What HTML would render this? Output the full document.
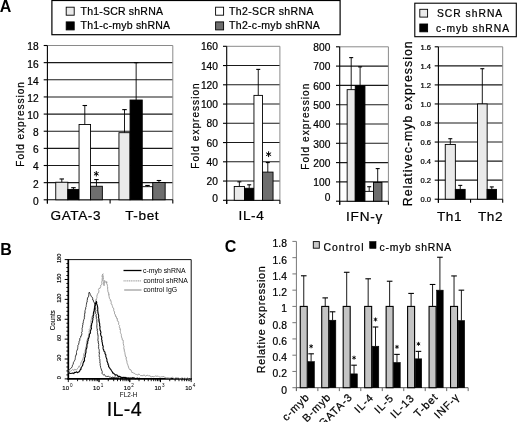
<!DOCTYPE html>
<html><head><meta charset="utf-8"><style>
html,body{margin:0;padding:0;background:#fff;overflow:hidden;width:520px;height:422px;}
svg{display:block;font-family:"Liberation Sans", sans-serif;filter:grayscale(1);}
</style></head><body>
<svg width="520" height="422" viewBox="0 0 520 422">
<rect width="520" height="422" fill="#fff"/>
<text x="-0.3" y="11.6" font-size="16" text-anchor="start" font-weight="bold" fill="#000">A</text>
<rect x="51.9" y="0.5" width="288.2" height="34.2" fill="#fff" stroke="#000" stroke-width="1.2"/>
<rect x="66.2" y="7.2" width="8" height="8" fill="#eaeaea" stroke="#000" stroke-width="0.9"/>
<rect x="66.2" y="21.9" width="8" height="8" fill="#000" stroke="#000" stroke-width="0.9"/>
<rect x="215.6" y="7.2" width="8" height="8" fill="#fff" stroke="#000" stroke-width="0.9"/>
<rect x="215.6" y="21.9" width="8" height="8" fill="#6e6e6e" stroke="#000" stroke-width="0.9"/>
<text x="80.6" y="14.6" font-size="10.5" text-anchor="start" letter-spacing="0.2" fill="#000" stroke="#000" stroke-width="0.22">Th1-SCR shRNA</text>
<text x="80.6" y="29" font-size="10.5" text-anchor="start" letter-spacing="0.22" fill="#000" stroke="#000" stroke-width="0.22">Th1-c-myb shRNA</text>
<text x="229" y="14.6" font-size="10.5" text-anchor="start" letter-spacing="0.38" fill="#000" stroke="#000" stroke-width="0.22">Th2-SCR shRNA</text>
<text x="229" y="29" font-size="10.5" text-anchor="start" letter-spacing="0.32" fill="#000" stroke="#000" stroke-width="0.22">Th2-c-myb shRNA</text>
<rect x="414.8" y="3.2" width="101.5" height="33.5" fill="#fff" stroke="#000" stroke-width="1.1"/>
<rect x="419.8" y="9.3" width="7.8" height="7.8" fill="#eaeaea" stroke="#000" stroke-width="0.9"/>
<rect x="419.8" y="24" width="7.8" height="7.8" fill="#000" stroke="#000" stroke-width="0.9"/>
<text x="437" y="17.3" font-size="10.3" text-anchor="start" letter-spacing="1.0" fill="#000" stroke="#000" stroke-width="0.22">SCR shRNA</text>
<text x="436" y="31.8" font-size="10.3" text-anchor="start" letter-spacing="0.95" fill="#000" stroke="#000" stroke-width="0.22">c-myb shRNA</text>
<line x1="47.4" y1="182.66" x2="172.8" y2="182.66" stroke="#1a1a1a" stroke-width="1.1" />
<line x1="47.4" y1="165.51" x2="172.8" y2="165.51" stroke="#1a1a1a" stroke-width="1.1" />
<line x1="47.4" y1="148.37" x2="172.8" y2="148.37" stroke="#1a1a1a" stroke-width="1.1" />
<line x1="47.4" y1="131.22" x2="172.8" y2="131.22" stroke="#1a1a1a" stroke-width="1.1" />
<line x1="47.4" y1="114.08" x2="172.8" y2="114.08" stroke="#1a1a1a" stroke-width="1.1" />
<line x1="47.4" y1="96.93" x2="172.8" y2="96.93" stroke="#1a1a1a" stroke-width="1.1" />
<line x1="47.4" y1="79.79" x2="172.8" y2="79.79" stroke="#1a1a1a" stroke-width="1.1" />
<line x1="47.4" y1="62.64" x2="172.8" y2="62.64" stroke="#1a1a1a" stroke-width="1.1" />
<line x1="47.4" y1="45.5" x2="172.8" y2="45.5" stroke="#8a8a8a" stroke-width="1" />
<line x1="172.8" y1="45.5" x2="172.8" y2="199.8" stroke="#8a8a8a" stroke-width="1" />
<line x1="47.4" y1="45.5" x2="47.4" y2="203.4" stroke="#000" stroke-width="1.1" />
<line x1="43.7" y1="199.8" x2="47.4" y2="199.8" stroke="#000" stroke-width="1.1" />
<text x="38.6" y="204.67" font-size="10.2" text-anchor="end" fill="#000" stroke="#000" stroke-width="0.22">0</text>
<line x1="43.7" y1="182.66" x2="47.4" y2="182.66" stroke="#000" stroke-width="1.1" />
<text x="38.6" y="187.53" font-size="10.2" text-anchor="end" fill="#000" stroke="#000" stroke-width="0.22">2</text>
<line x1="43.7" y1="165.51" x2="47.4" y2="165.51" stroke="#000" stroke-width="1.1" />
<text x="38.6" y="170.38" font-size="10.2" text-anchor="end" fill="#000" stroke="#000" stroke-width="0.22">4</text>
<line x1="43.7" y1="148.37" x2="47.4" y2="148.37" stroke="#000" stroke-width="1.1" />
<text x="38.6" y="153.24" font-size="10.2" text-anchor="end" fill="#000" stroke="#000" stroke-width="0.22">6</text>
<line x1="43.7" y1="131.22" x2="47.4" y2="131.22" stroke="#000" stroke-width="1.1" />
<text x="38.6" y="136.09" font-size="10.2" text-anchor="end" fill="#000" stroke="#000" stroke-width="0.22">8</text>
<line x1="43.7" y1="114.08" x2="47.4" y2="114.08" stroke="#000" stroke-width="1.1" />
<text x="38.6" y="118.95" font-size="10.2" text-anchor="end" fill="#000" stroke="#000" stroke-width="0.22">10</text>
<line x1="43.7" y1="96.93" x2="47.4" y2="96.93" stroke="#000" stroke-width="1.1" />
<text x="38.6" y="101.8" font-size="10.2" text-anchor="end" fill="#000" stroke="#000" stroke-width="0.22">12</text>
<line x1="43.7" y1="79.79" x2="47.4" y2="79.79" stroke="#000" stroke-width="1.1" />
<text x="38.6" y="84.66" font-size="10.2" text-anchor="end" fill="#000" stroke="#000" stroke-width="0.22">14</text>
<line x1="43.7" y1="62.64" x2="47.4" y2="62.64" stroke="#000" stroke-width="1.1" />
<text x="38.6" y="67.51" font-size="10.2" text-anchor="end" fill="#000" stroke="#000" stroke-width="0.22">16</text>
<line x1="43.7" y1="45.5" x2="47.4" y2="45.5" stroke="#000" stroke-width="1.1" />
<text x="38.6" y="50.37" font-size="10.2" text-anchor="end" fill="#000" stroke="#000" stroke-width="0.22">18</text>
<line x1="47.4" y1="199.8" x2="172.8" y2="199.8" stroke="#000" stroke-width="1.1" />
<line x1="47.4" y1="199.8" x2="47.4" y2="203.4" stroke="#000" stroke-width="1.1" />
<line x1="110.1" y1="199.8" x2="110.1" y2="203.4" stroke="#000" stroke-width="1.1" />
<line x1="172.8" y1="199.8" x2="172.8" y2="203.4" stroke="#000" stroke-width="1.1" />
<line x1="61.8" y1="178.97" x2="61.8" y2="182.23" stroke="#000" stroke-width="0.9" />
<line x1="59.55" y1="178.97" x2="64.05" y2="178.97" stroke="#000" stroke-width="1.1" />
<rect x="55.75" y="182.23" width="12.1" height="17.57" fill="#eaeaea" stroke="#000" stroke-width="0.9"/>
<line x1="73.45" y1="187.71" x2="73.45" y2="189.43" stroke="#000" stroke-width="0.9" />
<line x1="71.2" y1="187.71" x2="75.7" y2="187.71" stroke="#000" stroke-width="1.1" />
<rect x="67.85" y="189.43" width="11.2" height="10.37" fill="#000" stroke="#000" stroke-width="0.9"/>
<line x1="84.8" y1="105.51" x2="84.8" y2="124.54" stroke="#000" stroke-width="0.9" />
<line x1="82.55" y1="105.51" x2="87.05" y2="105.51" stroke="#000" stroke-width="1.1" />
<rect x="79.05" y="124.54" width="11.5" height="75.26" fill="#fff" stroke="#000" stroke-width="0.9"/>
<line x1="96.45" y1="179.57" x2="96.45" y2="186.26" stroke="#000" stroke-width="0.9" />
<line x1="94.2" y1="179.57" x2="98.7" y2="179.57" stroke="#000" stroke-width="1.1" />
<rect x="90.55" y="186.26" width="11.8" height="13.54" fill="#6e6e6e" stroke="#000" stroke-width="0.9"/>
<line x1="124.5" y1="109.62" x2="124.5" y2="132.68" stroke="#000" stroke-width="0.9" />
<line x1="122.25" y1="109.62" x2="126.75" y2="109.62" stroke="#000" stroke-width="1.1" />
<rect x="118.95" y="132.68" width="11.1" height="67.12" fill="#eaeaea" stroke="#000" stroke-width="0.9"/>
<line x1="136.15" y1="62.64" x2="136.15" y2="100.02" stroke="#000" stroke-width="0.9" />
<line x1="133.9" y1="62.64" x2="138.4" y2="62.64" stroke="#000" stroke-width="1.1" />
<rect x="130.05" y="100.02" width="12.2" height="99.78" fill="#000" stroke="#000" stroke-width="0.9"/>
<line x1="147.5" y1="185.48" x2="147.5" y2="186.68" stroke="#000" stroke-width="0.9" />
<line x1="145.25" y1="185.48" x2="149.75" y2="185.48" stroke="#000" stroke-width="1.1" />
<rect x="142.25" y="186.68" width="10.5" height="13.12" fill="#fff" stroke="#000" stroke-width="0.9"/>
<line x1="158.95" y1="180.51" x2="158.95" y2="182.48" stroke="#000" stroke-width="0.9" />
<line x1="156.7" y1="180.51" x2="161.2" y2="180.51" stroke="#000" stroke-width="1.1" />
<rect x="152.75" y="182.48" width="12.4" height="17.32" fill="#6e6e6e" stroke="#000" stroke-width="0.9"/>
<line x1="96.3" y1="171.05" x2="96.3" y2="176.45" stroke="#000" stroke-width="1.0" />
<line x1="93.96" y1="172.4" x2="98.64" y2="175.1" stroke="#000" stroke-width="1.0" />
<line x1="98.64" y1="172.4" x2="93.96" y2="175.1" stroke="#000" stroke-width="1.0" />
<text x="75.8" y="220.3" font-size="13.6" text-anchor="middle" letter-spacing="0.6" fill="#000" stroke="#000" stroke-width="0.22">GATA-3</text>
<text x="142.2" y="220.3" font-size="13.6" text-anchor="middle" letter-spacing="0.6" fill="#000" stroke="#000" stroke-width="0.22">T-bet</text>
<text x="23.6" y="123.9" font-size="10" text-anchor="middle" letter-spacing="1.0" fill="#000" transform="rotate(-90 23.6 123.9)" stroke="#000" stroke-width="0.22">Fold expression</text>
<line x1="226.7" y1="181.05" x2="279.9" y2="181.05" stroke="#1a1a1a" stroke-width="1.1" />
<line x1="226.7" y1="161.8" x2="279.9" y2="161.8" stroke="#1a1a1a" stroke-width="1.1" />
<line x1="226.7" y1="142.55" x2="279.9" y2="142.55" stroke="#1a1a1a" stroke-width="1.1" />
<line x1="226.7" y1="123.3" x2="279.9" y2="123.3" stroke="#1a1a1a" stroke-width="1.1" />
<line x1="226.7" y1="104.05" x2="279.9" y2="104.05" stroke="#1a1a1a" stroke-width="1.1" />
<line x1="226.7" y1="84.8" x2="279.9" y2="84.8" stroke="#1a1a1a" stroke-width="1.1" />
<line x1="226.7" y1="65.55" x2="279.9" y2="65.55" stroke="#1a1a1a" stroke-width="1.1" />
<line x1="226.7" y1="46.3" x2="279.9" y2="46.3" stroke="#8a8a8a" stroke-width="1" />
<line x1="279.9" y1="46.3" x2="279.9" y2="200.3" stroke="#8a8a8a" stroke-width="1" />
<line x1="226.7" y1="46.3" x2="226.7" y2="203.9" stroke="#000" stroke-width="1.1" />
<line x1="223" y1="200.3" x2="226.7" y2="200.3" stroke="#000" stroke-width="1.1" />
<text x="217.9" y="201.97" font-size="10.2" text-anchor="end" fill="#000" stroke="#000" stroke-width="0.22">0</text>
<line x1="223" y1="181.05" x2="226.7" y2="181.05" stroke="#000" stroke-width="1.1" />
<text x="217.9" y="185.22" font-size="10.2" text-anchor="end" fill="#000" stroke="#000" stroke-width="0.22">20</text>
<line x1="223" y1="161.8" x2="226.7" y2="161.8" stroke="#000" stroke-width="1.1" />
<text x="217.9" y="165.97" font-size="10.2" text-anchor="end" fill="#000" stroke="#000" stroke-width="0.22">40</text>
<line x1="223" y1="142.55" x2="226.7" y2="142.55" stroke="#000" stroke-width="1.1" />
<text x="217.9" y="146.72" font-size="10.2" text-anchor="end" fill="#000" stroke="#000" stroke-width="0.22">60</text>
<line x1="223" y1="123.3" x2="226.7" y2="123.3" stroke="#000" stroke-width="1.1" />
<text x="217.9" y="127.47" font-size="10.2" text-anchor="end" fill="#000" stroke="#000" stroke-width="0.22">80</text>
<line x1="223" y1="104.05" x2="226.7" y2="104.05" stroke="#000" stroke-width="1.1" />
<text x="217.9" y="108.22" font-size="10.2" text-anchor="end" fill="#000" stroke="#000" stroke-width="0.22">100</text>
<line x1="223" y1="84.8" x2="226.7" y2="84.8" stroke="#000" stroke-width="1.1" />
<text x="217.9" y="88.97" font-size="10.2" text-anchor="end" fill="#000" stroke="#000" stroke-width="0.22">120</text>
<line x1="223" y1="65.55" x2="226.7" y2="65.55" stroke="#000" stroke-width="1.1" />
<text x="217.9" y="69.72" font-size="10.2" text-anchor="end" fill="#000" stroke="#000" stroke-width="0.22">140</text>
<line x1="223" y1="46.3" x2="226.7" y2="46.3" stroke="#000" stroke-width="1.1" />
<text x="217.9" y="50.47" font-size="10.2" text-anchor="end" fill="#000" stroke="#000" stroke-width="0.22">160</text>
<line x1="226.7" y1="200.3" x2="279.9" y2="200.3" stroke="#000" stroke-width="1.1" />
<line x1="226.7" y1="200.3" x2="226.7" y2="203.9" stroke="#000" stroke-width="1.1" />
<line x1="279.9" y1="200.3" x2="279.9" y2="203.9" stroke="#000" stroke-width="1.1" />
<line x1="239.35" y1="181.82" x2="239.35" y2="186.44" stroke="#000" stroke-width="0.9" />
<line x1="237.35" y1="181.82" x2="241.35" y2="181.82" stroke="#000" stroke-width="1.1" />
<rect x="234.25" y="186.44" width="10.2" height="13.86" fill="#eaeaea" stroke="#000" stroke-width="0.9"/>
<line x1="249.2" y1="184.8" x2="249.2" y2="188.27" stroke="#000" stroke-width="0.9" />
<line x1="247.2" y1="184.8" x2="251.2" y2="184.8" stroke="#000" stroke-width="1.1" />
<rect x="244.45" y="188.27" width="9.5" height="12.03" fill="#000" stroke="#000" stroke-width="0.9"/>
<line x1="258.25" y1="69.4" x2="258.25" y2="95.39" stroke="#000" stroke-width="0.9" />
<line x1="256.25" y1="69.4" x2="260.25" y2="69.4" stroke="#000" stroke-width="1.1" />
<rect x="253.95" y="95.39" width="8.6" height="104.91" fill="#fff" stroke="#000" stroke-width="0.9"/>
<line x1="267.8" y1="162.57" x2="267.8" y2="172.1" stroke="#000" stroke-width="0.9" />
<line x1="265.8" y1="162.57" x2="269.8" y2="162.57" stroke="#000" stroke-width="1.1" />
<rect x="262.55" y="172.1" width="10.5" height="28.2" fill="#6e6e6e" stroke="#000" stroke-width="0.9"/>
<line x1="268.6" y1="151.3" x2="268.6" y2="157.1" stroke="#000" stroke-width="1.0" />
<line x1="266.09" y1="152.75" x2="271.11" y2="155.65" stroke="#000" stroke-width="1.0" />
<line x1="271.11" y1="152.75" x2="266.09" y2="155.65" stroke="#000" stroke-width="1.0" />
<text x="251.5" y="220.3" font-size="13.6" text-anchor="middle" letter-spacing="0.6" fill="#000" stroke="#000" stroke-width="0.22">IL-4</text>
<text x="199.3" y="125.5" font-size="10" text-anchor="middle" letter-spacing="1.05" fill="#000" transform="rotate(-90 199.3 125.5)" stroke="#000" stroke-width="0.22">Fold expression</text>
<line x1="339.7" y1="181.9" x2="388.4" y2="181.9" stroke="#1a1a1a" stroke-width="1.1" />
<line x1="339.7" y1="162.6" x2="388.4" y2="162.6" stroke="#1a1a1a" stroke-width="1.1" />
<line x1="339.7" y1="143.3" x2="388.4" y2="143.3" stroke="#1a1a1a" stroke-width="1.1" />
<line x1="339.7" y1="124" x2="388.4" y2="124" stroke="#1a1a1a" stroke-width="1.1" />
<line x1="339.7" y1="104.7" x2="388.4" y2="104.7" stroke="#1a1a1a" stroke-width="1.1" />
<line x1="339.7" y1="85.4" x2="388.4" y2="85.4" stroke="#1a1a1a" stroke-width="1.1" />
<line x1="339.7" y1="66.1" x2="388.4" y2="66.1" stroke="#1a1a1a" stroke-width="1.1" />
<line x1="339.7" y1="46.8" x2="388.4" y2="46.8" stroke="#8a8a8a" stroke-width="1" />
<line x1="388.4" y1="46.8" x2="388.4" y2="201.2" stroke="#8a8a8a" stroke-width="1" />
<line x1="339.7" y1="46.8" x2="339.7" y2="204.8" stroke="#000" stroke-width="1.1" />
<line x1="336" y1="201.2" x2="339.7" y2="201.2" stroke="#000" stroke-width="1.1" />
<text x="330.3" y="201.27" font-size="10.2" text-anchor="end" fill="#000" stroke="#000" stroke-width="0.22">0</text>
<line x1="336" y1="181.9" x2="339.7" y2="181.9" stroke="#000" stroke-width="1.1" />
<text x="330.3" y="186.17" font-size="10.2" text-anchor="end" fill="#000" stroke="#000" stroke-width="0.22">100</text>
<line x1="336" y1="162.6" x2="339.7" y2="162.6" stroke="#000" stroke-width="1.1" />
<text x="330.3" y="166.87" font-size="10.2" text-anchor="end" fill="#000" stroke="#000" stroke-width="0.22">200</text>
<line x1="336" y1="143.3" x2="339.7" y2="143.3" stroke="#000" stroke-width="1.1" />
<text x="330.3" y="147.57" font-size="10.2" text-anchor="end" fill="#000" stroke="#000" stroke-width="0.22">300</text>
<line x1="336" y1="124" x2="339.7" y2="124" stroke="#000" stroke-width="1.1" />
<text x="330.3" y="128.27" font-size="10.2" text-anchor="end" fill="#000" stroke="#000" stroke-width="0.22">400</text>
<line x1="336" y1="104.7" x2="339.7" y2="104.7" stroke="#000" stroke-width="1.1" />
<text x="330.3" y="108.97" font-size="10.2" text-anchor="end" fill="#000" stroke="#000" stroke-width="0.22">500</text>
<line x1="336" y1="85.4" x2="339.7" y2="85.4" stroke="#000" stroke-width="1.1" />
<text x="330.3" y="89.67" font-size="10.2" text-anchor="end" fill="#000" stroke="#000" stroke-width="0.22">600</text>
<line x1="336" y1="66.1" x2="339.7" y2="66.1" stroke="#000" stroke-width="1.1" />
<text x="330.3" y="70.37" font-size="10.2" text-anchor="end" fill="#000" stroke="#000" stroke-width="0.22">700</text>
<line x1="336" y1="46.8" x2="339.7" y2="46.8" stroke="#000" stroke-width="1.1" />
<text x="330.3" y="51.07" font-size="10.2" text-anchor="end" fill="#000" stroke="#000" stroke-width="0.22">800</text>
<line x1="339.7" y1="201.2" x2="388.4" y2="201.2" stroke="#000" stroke-width="1.1" />
<line x1="339.7" y1="201.2" x2="339.7" y2="204.8" stroke="#000" stroke-width="1.1" />
<line x1="388.4" y1="201.2" x2="388.4" y2="204.8" stroke="#000" stroke-width="1.1" />
<line x1="351.2" y1="57.61" x2="351.2" y2="89.65" stroke="#000" stroke-width="0.9" />
<line x1="349.2" y1="57.61" x2="353.2" y2="57.61" stroke="#000" stroke-width="1.1" />
<rect x="347.15" y="89.65" width="8.1" height="111.55" fill="#eaeaea" stroke="#000" stroke-width="0.9"/>
<line x1="360.1" y1="66.87" x2="360.1" y2="85.79" stroke="#000" stroke-width="0.9" />
<line x1="358.1" y1="66.87" x2="362.1" y2="66.87" stroke="#000" stroke-width="1.1" />
<rect x="355.25" y="85.79" width="9.7" height="115.41" fill="#000" stroke="#000" stroke-width="0.9"/>
<line x1="369.2" y1="186.72" x2="369.2" y2="191.36" stroke="#000" stroke-width="0.9" />
<line x1="367.2" y1="186.72" x2="371.2" y2="186.72" stroke="#000" stroke-width="1.1" />
<rect x="364.95" y="191.36" width="8.5" height="9.84" fill="#fff" stroke="#000" stroke-width="0.9"/>
<line x1="377.7" y1="168.58" x2="377.7" y2="182.48" stroke="#000" stroke-width="0.9" />
<line x1="375.7" y1="168.58" x2="379.7" y2="168.58" stroke="#000" stroke-width="1.1" />
<rect x="373.45" y="182.48" width="8.5" height="18.72" fill="#6e6e6e" stroke="#000" stroke-width="0.9"/>
<text x="364.6" y="220.9" font-size="13.6" text-anchor="middle" letter-spacing="0.75" fill="#000" stroke="#000" stroke-width="0.22">IFN-&#947;</text>
<text x="309.3" y="126.1" font-size="10" text-anchor="middle" letter-spacing="1.1" fill="#000" transform="rotate(-90 309.3 126.1)" stroke="#000" stroke-width="0.22">Fold expression</text>
<line x1="438.4" y1="180.15" x2="502.7" y2="180.15" stroke="#1a1a1a" stroke-width="1.1" />
<line x1="438.4" y1="161.1" x2="502.7" y2="161.1" stroke="#1a1a1a" stroke-width="1.1" />
<line x1="438.4" y1="142.05" x2="502.7" y2="142.05" stroke="#1a1a1a" stroke-width="1.1" />
<line x1="438.4" y1="123" x2="502.7" y2="123" stroke="#1a1a1a" stroke-width="1.1" />
<line x1="438.4" y1="103.95" x2="502.7" y2="103.95" stroke="#1a1a1a" stroke-width="1.1" />
<line x1="438.4" y1="84.9" x2="502.7" y2="84.9" stroke="#1a1a1a" stroke-width="1.1" />
<line x1="438.4" y1="65.85" x2="502.7" y2="65.85" stroke="#1a1a1a" stroke-width="1.1" />
<line x1="438.4" y1="46.8" x2="502.7" y2="46.8" stroke="#8a8a8a" stroke-width="1" />
<line x1="502.7" y1="46.8" x2="502.7" y2="199.2" stroke="#8a8a8a" stroke-width="1" />
<line x1="438.4" y1="46.8" x2="438.4" y2="202.8" stroke="#000" stroke-width="1.1" />
<line x1="434.7" y1="199.2" x2="438.4" y2="199.2" stroke="#000" stroke-width="1.1" />
<text x="431" y="202.36" font-size="7.6" text-anchor="end" fill="#000" stroke="#000" stroke-width="0.22">0.0</text>
<line x1="434.7" y1="180.15" x2="438.4" y2="180.15" stroke="#000" stroke-width="1.1" />
<text x="431" y="183.31" font-size="7.6" text-anchor="end" fill="#000" stroke="#000" stroke-width="0.22">0.2</text>
<line x1="434.7" y1="161.1" x2="438.4" y2="161.1" stroke="#000" stroke-width="1.1" />
<text x="431" y="164.26" font-size="7.6" text-anchor="end" fill="#000" stroke="#000" stroke-width="0.22">0.4</text>
<line x1="434.7" y1="142.05" x2="438.4" y2="142.05" stroke="#000" stroke-width="1.1" />
<text x="431" y="145.21" font-size="7.6" text-anchor="end" fill="#000" stroke="#000" stroke-width="0.22">0.6</text>
<line x1="434.7" y1="123" x2="438.4" y2="123" stroke="#000" stroke-width="1.1" />
<text x="431" y="126.16" font-size="7.6" text-anchor="end" fill="#000" stroke="#000" stroke-width="0.22">0.8</text>
<line x1="434.7" y1="103.95" x2="438.4" y2="103.95" stroke="#000" stroke-width="1.1" />
<text x="431" y="107.11" font-size="7.6" text-anchor="end" fill="#000" stroke="#000" stroke-width="0.22">1.0</text>
<line x1="434.7" y1="84.9" x2="438.4" y2="84.9" stroke="#000" stroke-width="1.1" />
<text x="431" y="88.06" font-size="7.6" text-anchor="end" fill="#000" stroke="#000" stroke-width="0.22">1.2</text>
<line x1="434.7" y1="65.85" x2="438.4" y2="65.85" stroke="#000" stroke-width="1.1" />
<text x="431" y="69.01" font-size="7.6" text-anchor="end" fill="#000" stroke="#000" stroke-width="0.22">1.4</text>
<line x1="434.7" y1="46.8" x2="438.4" y2="46.8" stroke="#000" stroke-width="1.1" />
<text x="431" y="49.96" font-size="7.6" text-anchor="end" fill="#000" stroke="#000" stroke-width="0.22">1.6</text>
<line x1="438.4" y1="199.2" x2="502.7" y2="199.2" stroke="#000" stroke-width="1.1" />
<line x1="438.4" y1="199.2" x2="438.4" y2="202.8" stroke="#000" stroke-width="1.1" />
<line x1="470.55" y1="199.2" x2="470.55" y2="202.8" stroke="#000" stroke-width="1.1" />
<line x1="502.7" y1="199.2" x2="502.7" y2="202.8" stroke="#000" stroke-width="1.1" />
<line x1="450.3" y1="138.72" x2="450.3" y2="144.43" stroke="#000" stroke-width="0.9" />
<line x1="448.3" y1="138.72" x2="452.3" y2="138.72" stroke="#000" stroke-width="1.1" />
<rect x="445.25" y="144.43" width="10.1" height="54.77" fill="#eaeaea" stroke="#000" stroke-width="0.9"/>
<line x1="460.25" y1="185.39" x2="460.25" y2="189.39" stroke="#000" stroke-width="0.9" />
<line x1="458.25" y1="185.39" x2="462.25" y2="185.39" stroke="#000" stroke-width="1.1" />
<rect x="455.35" y="189.39" width="9.8" height="9.81" fill="#000" stroke="#000" stroke-width="0.9"/>
<line x1="482.3" y1="68.71" x2="482.3" y2="103.95" stroke="#000" stroke-width="0.9" />
<line x1="480.3" y1="68.71" x2="484.3" y2="68.71" stroke="#000" stroke-width="1.1" />
<rect x="477.45" y="103.95" width="9.7" height="95.25" fill="#eaeaea" stroke="#000" stroke-width="0.9"/>
<line x1="491.8" y1="186.91" x2="491.8" y2="189.39" stroke="#000" stroke-width="0.9" />
<line x1="489.8" y1="186.91" x2="493.8" y2="186.91" stroke="#000" stroke-width="1.1" />
<rect x="487.15" y="189.39" width="9.3" height="9.81" fill="#000" stroke="#000" stroke-width="0.9"/>
<text x="449.6" y="221.3" font-size="13.6" text-anchor="middle" letter-spacing="0.6" fill="#000" stroke="#000" stroke-width="0.22">Th1</text>
<text x="490.5" y="221.3" font-size="13.6" text-anchor="middle" letter-spacing="0.6" fill="#000" stroke="#000" stroke-width="0.22">Th2</text>
<text x="412.2" y="123.2" font-size="12.4" text-anchor="middle" letter-spacing="1.0" fill="#000" transform="rotate(-90 412.2 123.2)" stroke="#000" stroke-width="0.22">Relativec-myb expression</text>
<text x="0.2" y="254.6" font-size="16" text-anchor="start" font-weight="bold" fill="#000">B</text>
<line x1="68.3" y1="259.6" x2="191.2" y2="259.6" stroke="#111" stroke-width="1.0" />
<line x1="191.2" y1="259.6" x2="191.2" y2="378.9" stroke="#111" stroke-width="1.0" />
<line x1="68.3" y1="259.1" x2="68.3" y2="379.7" stroke="#000" stroke-width="1.7" />
<line x1="67.5" y1="378.9" x2="191.7" y2="378.9" stroke="#000" stroke-width="1.6" />
<line x1="64.7" y1="378.9" x2="68.3" y2="378.9" stroke="#000" stroke-width="1.0" />
<line x1="66.4" y1="374.92" x2="68.3" y2="374.92" stroke="#000" stroke-width="1.0" />
<line x1="66.4" y1="370.95" x2="68.3" y2="370.95" stroke="#000" stroke-width="1.0" />
<line x1="66.4" y1="366.97" x2="68.3" y2="366.97" stroke="#000" stroke-width="1.0" />
<line x1="66.4" y1="362.99" x2="68.3" y2="362.99" stroke="#000" stroke-width="1.0" />
<line x1="64.7" y1="359.02" x2="68.3" y2="359.02" stroke="#000" stroke-width="1.0" />
<line x1="66.4" y1="355.04" x2="68.3" y2="355.04" stroke="#000" stroke-width="1.0" />
<line x1="66.4" y1="351.06" x2="68.3" y2="351.06" stroke="#000" stroke-width="1.0" />
<line x1="66.4" y1="347.09" x2="68.3" y2="347.09" stroke="#000" stroke-width="1.0" />
<line x1="66.4" y1="343.11" x2="68.3" y2="343.11" stroke="#000" stroke-width="1.0" />
<line x1="64.7" y1="339.13" x2="68.3" y2="339.13" stroke="#000" stroke-width="1.0" />
<line x1="66.4" y1="335.16" x2="68.3" y2="335.16" stroke="#000" stroke-width="1.0" />
<line x1="66.4" y1="331.18" x2="68.3" y2="331.18" stroke="#000" stroke-width="1.0" />
<line x1="66.4" y1="327.2" x2="68.3" y2="327.2" stroke="#000" stroke-width="1.0" />
<line x1="66.4" y1="323.23" x2="68.3" y2="323.23" stroke="#000" stroke-width="1.0" />
<line x1="64.7" y1="319.25" x2="68.3" y2="319.25" stroke="#000" stroke-width="1.0" />
<line x1="66.4" y1="315.27" x2="68.3" y2="315.27" stroke="#000" stroke-width="1.0" />
<line x1="66.4" y1="311.3" x2="68.3" y2="311.3" stroke="#000" stroke-width="1.0" />
<line x1="66.4" y1="307.32" x2="68.3" y2="307.32" stroke="#000" stroke-width="1.0" />
<line x1="66.4" y1="303.34" x2="68.3" y2="303.34" stroke="#000" stroke-width="1.0" />
<line x1="64.7" y1="299.37" x2="68.3" y2="299.37" stroke="#000" stroke-width="1.0" />
<line x1="66.4" y1="295.39" x2="68.3" y2="295.39" stroke="#000" stroke-width="1.0" />
<line x1="66.4" y1="291.41" x2="68.3" y2="291.41" stroke="#000" stroke-width="1.0" />
<line x1="66.4" y1="287.44" x2="68.3" y2="287.44" stroke="#000" stroke-width="1.0" />
<line x1="66.4" y1="283.46" x2="68.3" y2="283.46" stroke="#000" stroke-width="1.0" />
<line x1="64.7" y1="279.48" x2="68.3" y2="279.48" stroke="#000" stroke-width="1.0" />
<line x1="66.4" y1="275.51" x2="68.3" y2="275.51" stroke="#000" stroke-width="1.0" />
<line x1="66.4" y1="271.53" x2="68.3" y2="271.53" stroke="#000" stroke-width="1.0" />
<line x1="66.4" y1="267.55" x2="68.3" y2="267.55" stroke="#000" stroke-width="1.0" />
<line x1="66.4" y1="263.58" x2="68.3" y2="263.58" stroke="#000" stroke-width="1.0" />
<line x1="64.7" y1="259.6" x2="68.3" y2="259.6" stroke="#000" stroke-width="1.0" />
<text x="61.2" y="377.7" font-size="5.6" text-anchor="middle" fill="#000" transform="rotate(-90 61.2 377.7)" stroke="#000" stroke-width="0.15">0</text>
<text x="61.2" y="357.82" font-size="5.6" text-anchor="middle" fill="#000" transform="rotate(-90 61.2 357.82)" stroke="#000" stroke-width="0.15">30</text>
<text x="61.2" y="337.93" font-size="5.6" text-anchor="middle" fill="#000" transform="rotate(-90 61.2 337.93)" stroke="#000" stroke-width="0.15">60</text>
<text x="61.2" y="318.05" font-size="5.6" text-anchor="middle" fill="#000" transform="rotate(-90 61.2 318.05)" stroke="#000" stroke-width="0.15">90</text>
<text x="61.2" y="298.17" font-size="5.6" text-anchor="middle" fill="#000" transform="rotate(-90 61.2 298.17)" stroke="#000" stroke-width="0.15">120</text>
<text x="61.2" y="278.28" font-size="5.6" text-anchor="middle" fill="#000" transform="rotate(-90 61.2 278.28)" stroke="#000" stroke-width="0.15">150</text>
<text x="61.2" y="258.4" font-size="5.6" text-anchor="middle" fill="#000" transform="rotate(-90 61.2 258.4)" stroke="#000" stroke-width="0.15">180</text>
<text x="54.6" y="320.2" font-size="6.3" text-anchor="middle" fill="#000" transform="rotate(-90 54.6 320.2)" stroke="#000" stroke-width="0.1">Counts</text>
<line x1="68.3" y1="378.9" x2="68.3" y2="382.1" stroke="#000" stroke-width="0.9" />
<line x1="77.55" y1="378.9" x2="77.55" y2="381.2" stroke="#000" stroke-width="0.9" />
<line x1="82.96" y1="378.9" x2="82.96" y2="381.2" stroke="#000" stroke-width="0.9" />
<line x1="86.8" y1="378.9" x2="86.8" y2="381.2" stroke="#000" stroke-width="0.9" />
<line x1="89.78" y1="378.9" x2="89.78" y2="381.2" stroke="#000" stroke-width="0.9" />
<line x1="92.21" y1="378.9" x2="92.21" y2="381.2" stroke="#000" stroke-width="0.9" />
<line x1="94.27" y1="378.9" x2="94.27" y2="381.2" stroke="#000" stroke-width="0.9" />
<line x1="96.05" y1="378.9" x2="96.05" y2="381.2" stroke="#000" stroke-width="0.9" />
<line x1="97.62" y1="378.9" x2="97.62" y2="381.2" stroke="#000" stroke-width="0.9" />
<line x1="99.02" y1="378.9" x2="99.02" y2="382.1" stroke="#000" stroke-width="0.9" />
<line x1="99.02" y1="378.9" x2="99.02" y2="382.1" stroke="#000" stroke-width="0.9" />
<line x1="108.27" y1="378.9" x2="108.27" y2="381.2" stroke="#000" stroke-width="0.9" />
<line x1="113.68" y1="378.9" x2="113.68" y2="381.2" stroke="#000" stroke-width="0.9" />
<line x1="117.52" y1="378.9" x2="117.52" y2="381.2" stroke="#000" stroke-width="0.9" />
<line x1="120.5" y1="378.9" x2="120.5" y2="381.2" stroke="#000" stroke-width="0.9" />
<line x1="122.93" y1="378.9" x2="122.93" y2="381.2" stroke="#000" stroke-width="0.9" />
<line x1="124.99" y1="378.9" x2="124.99" y2="381.2" stroke="#000" stroke-width="0.9" />
<line x1="126.77" y1="378.9" x2="126.77" y2="381.2" stroke="#000" stroke-width="0.9" />
<line x1="128.34" y1="378.9" x2="128.34" y2="381.2" stroke="#000" stroke-width="0.9" />
<line x1="129.75" y1="378.9" x2="129.75" y2="382.1" stroke="#000" stroke-width="0.9" />
<line x1="129.75" y1="378.9" x2="129.75" y2="382.1" stroke="#000" stroke-width="0.9" />
<line x1="139" y1="378.9" x2="139" y2="381.2" stroke="#000" stroke-width="0.9" />
<line x1="144.41" y1="378.9" x2="144.41" y2="381.2" stroke="#000" stroke-width="0.9" />
<line x1="148.25" y1="378.9" x2="148.25" y2="381.2" stroke="#000" stroke-width="0.9" />
<line x1="151.23" y1="378.9" x2="151.23" y2="381.2" stroke="#000" stroke-width="0.9" />
<line x1="153.66" y1="378.9" x2="153.66" y2="381.2" stroke="#000" stroke-width="0.9" />
<line x1="155.72" y1="378.9" x2="155.72" y2="381.2" stroke="#000" stroke-width="0.9" />
<line x1="157.5" y1="378.9" x2="157.5" y2="381.2" stroke="#000" stroke-width="0.9" />
<line x1="159.07" y1="378.9" x2="159.07" y2="381.2" stroke="#000" stroke-width="0.9" />
<line x1="160.47" y1="378.9" x2="160.47" y2="382.1" stroke="#000" stroke-width="0.9" />
<line x1="160.47" y1="378.9" x2="160.47" y2="382.1" stroke="#000" stroke-width="0.9" />
<line x1="169.72" y1="378.9" x2="169.72" y2="381.2" stroke="#000" stroke-width="0.9" />
<line x1="175.13" y1="378.9" x2="175.13" y2="381.2" stroke="#000" stroke-width="0.9" />
<line x1="178.97" y1="378.9" x2="178.97" y2="381.2" stroke="#000" stroke-width="0.9" />
<line x1="181.95" y1="378.9" x2="181.95" y2="381.2" stroke="#000" stroke-width="0.9" />
<line x1="184.38" y1="378.9" x2="184.38" y2="381.2" stroke="#000" stroke-width="0.9" />
<line x1="186.44" y1="378.9" x2="186.44" y2="381.2" stroke="#000" stroke-width="0.9" />
<line x1="188.22" y1="378.9" x2="188.22" y2="381.2" stroke="#000" stroke-width="0.9" />
<line x1="189.79" y1="378.9" x2="189.79" y2="381.2" stroke="#000" stroke-width="0.9" />
<line x1="191.2" y1="378.9" x2="191.2" y2="382.1" stroke="#000" stroke-width="0.9" />
<text x="65.7" y="390.2" font-size="6.0" text-anchor="middle" fill="#000" stroke="#000" stroke-width="0.12">10</text>
<text x="71.2" y="386.8" font-size="4.6" text-anchor="middle" fill="#000">0</text>
<text x="96.42" y="390.2" font-size="6.0" text-anchor="middle" fill="#000" stroke="#000" stroke-width="0.12">10</text>
<text x="101.92" y="386.8" font-size="4.6" text-anchor="middle" fill="#000">1</text>
<text x="127.15" y="390.2" font-size="6.0" text-anchor="middle" fill="#000" stroke="#000" stroke-width="0.12">10</text>
<text x="132.65" y="386.8" font-size="4.6" text-anchor="middle" fill="#000">2</text>
<text x="157.88" y="390.2" font-size="6.0" text-anchor="middle" fill="#000" stroke="#000" stroke-width="0.12">10</text>
<text x="163.38" y="386.8" font-size="4.6" text-anchor="middle" fill="#000">3</text>
<text x="188.6" y="390.2" font-size="6.0" text-anchor="middle" fill="#000" stroke="#000" stroke-width="0.12">10</text>
<text x="194.1" y="386.8" font-size="4.6" text-anchor="middle" fill="#000">4</text>
<text x="128.6" y="397.2" font-size="6.3" text-anchor="middle" fill="#000">FL2-H</text>
<text x="124.4" y="416.2" font-size="19.6" text-anchor="middle" letter-spacing="0.35" fill="#000" stroke="#000" stroke-width="0.22">IL-4</text>
<line x1="123.5" y1="270.5" x2="141.5" y2="270.5" stroke="#000" stroke-width="1.3" />
<line x1="123.5" y1="280.9" x2="141.5" y2="280.9" stroke="#888" stroke-width="0.9" stroke-dasharray="1.2,0.6"/>
<line x1="124.2" y1="290" x2="141.5" y2="290" stroke="#666" stroke-width="0.8" />
<text x="143" y="272.6" font-size="6.9" text-anchor="start" fill="#000">c-myb shRNA</text>
<text x="143.4" y="282.8" font-size="6.9" text-anchor="start" fill="#000">control shRNA</text>
<text x="143.4" y="292.4" font-size="6.9" text-anchor="start" fill="#000">control IgG</text>
<polyline points="68.44,372.37 69.54,371.56 70.23,371.42 70.6,371.01 71.63,370.48 72.71,369.46 74.06,370.51 74.81,369.15 76.29,370.18 77.27,368.91 78.23,367.56 78.72,367.28 78.68,366.25 79.43,366.79 79.91,365.65 80.67,364.43 80.93,363.03 80.83,362.44 81.73,362 81.75,361.44 82.22,360.08 82.86,359.96 82.6,358.84 83.08,358.5 83.5,356.55 83.95,355.35 83.68,355.61 83.67,354.24 83.8,353.67 84.68,352.61 85.01,351.25 85.08,350.87 85.21,349.65 85.67,349.57 85.58,348.1 85.44,347.2 86.2,346.75 86.59,344.51 86.43,344.24 86.34,342.9 86.7,341.31 86.81,341.52 87.09,339.63 87.53,339.79 87.46,338.07 88.09,337.89 88.55,336.9 88.27,335.13 88.55,335.01 89.3,332.73 88.81,331.92 89.05,331.43 89.56,330.09 89.22,329.43 89.74,328.76 90.46,328.04 90.25,326.97 90.59,325.02 90.98,325.38 91.15,324.48 90.9,322.82 90.86,322.24 91.03,320.22 91.38,319.39 91.71,318.19 91.62,317.37 91.93,316.75 92.07,316.67 92.93,314.42 92.93,313.83 93.35,312.47 94.11,313.09 93.92,311.26 93.74,309.66 94.13,309.04 94.72,307.95 94.15,308.46 94.76,306.1 94.93,304.97 95.07,305.77 95.53,304.35 95.17,302.76 95.27,302.49 95.78,301.5 95.78,299.5 96.4,299.87 96.62,298.55 96.99,297.53 96.85,296.23 97.37,294.45 97.28,294.02 97.68,293.88 98.51,292.56 98.69,292.65 98.91,290.64 98.45,289.51 99.03,288.32 100.01,288.42 100.57,286.76 100.77,286.44 100.63,285.29 101.77,284.51 102.03,282.96 101.58,282.52 101.79,281.54 102.44,279.81 102,279.8 102.36,277.41 101.89,276.37 102.66,276.55 102.18,275.34 103.13,273.78 102.65,274.52 102.54,274.48 103.38,276.56 103.07,277.99 103.07,278.81 103.51,278.55 103.08,279.63 103.21,281.16 103.36,281.85 103.39,283.74 103.73,283.92 104.08,285.73 104.1,284.75 104.35,283.06 104.55,281.13 104.65,280.43 104.95,281.04 105.51,281.7 106.4,283.1 106.64,281.53 106.95,282.94 106.65,283.47 106.87,283.88 107.45,285.23 107.36,286.61 107.77,286.97 107.6,288.01 107.67,289.35 107.78,290.06 107.96,291.79 108.32,292.68 108.7,292.57 108.65,294.8 109.21,294.35 108.86,295.9 109.12,296.53 109.4,298.28 110.33,299.66 110.05,300.3 110.79,300.24 111.27,302.7 110.96,303.64 111.41,303.78 112.32,305.45 111.95,305.78 112.64,306.66 112.73,307.67 113.57,308.14 113.8,309.89 113.69,310.7 114.61,312.02 114.48,313.87 115.51,314.85 115.27,314.58 115.59,316.5 116.19,316.33 116.73,318.74 117.49,318.57 117.21,320.63 117.91,321.11 117.81,320.83 118.67,322.37 118.62,324.54 119.62,325.54 119.29,326.64 119.44,327.65 119.96,327.71 120.21,329.77 120.12,329.33 120.52,330.53 120.32,331.39 120.43,332.46 120.83,333.65 121.4,334.62 121.33,335.42 121.36,336.13 121.58,337.07 122.31,338.97 122.12,339.77 123.09,340.05 123.29,341.58 123.17,343.2 123.25,343.51 123.68,345.27 123.54,345.9 124.04,346.44 123.94,346.83 123.8,347.33 123.97,349.43 124.3,349.39 124.31,351.61 125.17,352.31 124.8,352.54 125.06,353.93 125.19,354.9 125.54,356.83 126.43,357.08 126.01,358.84 126.31,358.74 126.27,359.79 126.94,361 126.93,362.01 127,362.58 127.33,363.82 127.54,364.14 128.02,365.52 128.53,367.05 128.93,368.28 129.49,369.52 129.8,369.35 130.94,369.87 131.5,371.38 131.69,372.35 133.25,372.6 133.91,373.56 134.24,373.34 135.42,374.2 136.55,374.49 137.22,374.91 138.16,374.85 138.76,373.86 139.67,374.65 140.64,375.7 142.05,375.53 143.11,375.83 143.99,374.72 145.27,376.18 146,375.91 147.14,375.18 148.21,375.63 148.62,375.76 150.21,375.77 151.22,377.21 151.99,376.19 152.98,376.78 154.24,376.71 155.13,375.79 155.68,376.16 157.22,376.33 158.06,375.89 158.6,376.44 160.15,377.29 161.16,376.65 162.01,377.05 162.97,376.51 164.35,376.74 165.43,378.16 165.57,377.38 167.29,378.39 167.95,377.21 168.74,378.52 169.74,377.95 170.68,377.89 172.41,377.24 173.29,377.97 174.35,378.37 174.76,378.77 175.99,377.24 176.55,378.14 177.96,377.84 178.68,377.95 179.83,378.87 180.55,378.74 182.31,377.63 183.38,378.73 184.36,377.99 184.88,378.21 186.37,378.56 186.71,378.27 187.55,377.59 188.31,379 189.39,379.18 190.5,378.4" fill="none" stroke="#999" stroke-width="0.9" stroke-linejoin="round" />
<polyline points="68.22,371.07 69.01,369.77 69.51,369.64 70.64,368.67 71.22,368.05 72.21,366.77 72.45,365.14 72.86,364.78 73.28,364.13 73.35,362.37 74.15,361.63 74.18,361.08 74.41,360.78 75.23,359.26 75.24,358.37 75.4,357.55 75.36,356.28 75.62,356.37 76.05,354.46 76.56,354.6 76.47,352.45 76.52,351.43 76.86,350.48 77.02,349.76 77.45,349.76 77.77,348.21 77.74,347.48 77.91,346.34 77.89,345.37 78.73,344.28 78.6,344.1 79.05,342.64 78.84,341.8 79.13,341.19 79.72,340.87 79.86,338.83 79.63,338.83 80.6,337.54 80.74,335.92 80.96,336.26 81.63,335.2 81.86,333.43 81.39,332.37 81.82,332.19 82.24,331.32 82.17,330.46 82.17,329.24 82.01,328.64 82.28,327.91 82.7,326.13 82.51,325.11 83.04,324.8 82.84,322.98 83.3,322.76 83.37,321.31 83.69,320.07 83.65,319.76 84.28,319.08 84.4,317.91 84.11,316.65 84.76,316.36 84.43,314.49 84.7,314.48 84.78,312.97 85.08,312.98 84.91,310.81 85.12,310.43 85.49,309.2 85.71,309.03 85.7,307.37 86.23,306.59 86.32,305.56 86.11,305.38 86.36,304.72 86.7,302.73 86.71,302.13 87.22,301.95 87.05,300.25 87.32,300.1 87.5,297.85 87.67,297.36 88.48,297.09 88.59,296.28 88.95,294.39 88.65,294.27 89.27,292.04 90.12,293.83 90.38,294.66 90.7,295.1 91.25,296.49 92.19,297.14 92.66,298.22 92.7,300.05 93.49,300.31 93.42,301.16 94.11,302.59 94.24,302.81 94.98,303.34 94.89,305.44 95.39,305.36 94.97,306.3 95.68,307.48 95.65,309.29 95.45,309.32 95.97,310.71 95.58,311.76 95.71,312.05 95.58,313.63 96.31,314.37 96.42,314.42 96.01,315.97 96.6,317.57 96.28,317.52 96.39,318.79 96.82,319.29 96.81,321 96.91,321.98 96.84,322.29 96.71,323.27 97.12,323.81 96.79,325.69 96.9,325.66 96.83,327.27 97.12,328.81 97.59,329.75 97.24,329.42 97.19,330.94 97.68,331.8 97.42,332.7 97.76,333.99 97.92,335.17 97.93,335.09 98.12,336.27 98,337.32 98.19,338.02 97.91,339.02 97.91,340.85 98.28,341.01 98.22,342.88 98.37,342.75 98.65,344.28 98.84,344.44 98.56,346.36 98.89,347.41 98.4,347.46 98.53,348.23 99.21,349.7 99.25,350.32 99.28,351.35 98.93,352.72 99.49,352.7 99.32,354.33 99.13,354.9 99.15,355.59 99.32,357.04 99.69,357.38 99.33,358.46 99.88,359.16 99.72,360.08 100.15,361.47 99.72,361.74 100.05,363.27 100.31,363.53 100.06,365.27 100.48,365.7 100.65,367.63 100.89,368.09 101.16,368.88 101.75,370.7 101.7,370.53 102.26,371.49 102.05,373.41 102.65,374.25 103.46,374.89 104.32,374.43 104.84,375.52 106.1,376.57 106.71,376.39 107.91,376.44 108.75,376.35 110.01,377.46 110.73,377.07 112.21,377.95 112.7,376.84 114.13,378.09 114.72,376.87 115.93,377.4 116.83,377.79 117.68,377.21 118.56,377.36 119.21,378.29 120.41,377.43 120.89,377.8 122.01,377.84 122.66,377.67 124.01,378.6 124.46,378.15 125.89,377.44 126.88,377.57 127.64,378.2 128.59,377.88 129.37,378.29 130.31,378.42 131.25,378.13 131.88,378.4 133.14,377.89 134.26,378.67 135,378.3" fill="none" stroke="#333" stroke-width="0.95" stroke-linejoin="round" />
<polyline points="68.57,373.55 68.98,372.65 69.71,373.3 70.65,373.52 71.91,373.16 72.9,372.92 73.86,373.59 74.61,372.28 75.5,372.43 76.69,371.79 77.5,372.69 78.29,372.14 78.79,372.07 79.59,371.16 80.49,369.18 81,369.38 81.1,367.69 81.94,366.53 82.4,365.81 82.71,364.74 82.85,364.94 83.01,363.13 83.58,362.32 83.61,361.24 84.06,361.41 84.58,360.46 84.37,359.42 84.48,358.17 85,357.04 85.31,356.42 85.26,355.99 85.07,355.25 85.59,353.52 85.86,352.45 86.14,351.99 85.85,351.36 86.06,349.65 86.47,348.55 86.72,347.91 86.8,348.01 86.96,346.64 86.97,344.79 86.97,344.08 87.58,343.55 87.71,343.28 87.64,341.42 88.23,340.24 88,339.82 88.3,338.94 88.61,338.37 89.09,336.95 89.34,336.44 89.22,336.2 89.52,334.21 89.66,333.95 90.44,333.22 90.35,331.55 90.32,331.14 90.94,329.79 91.17,328.97 91.55,328.43 91.23,327.71 91.26,326.24 91.68,324.88 91.61,324.69 91.75,323.42 92.57,321.9 92.22,321.6 92.6,320.7 92.96,319.14 92.74,318.4 92.7,318.32 93.35,317.17 92.95,316.44 93.6,315.01 93.74,314.08 93.52,312.69 93.66,311.69 93.87,311.77 94.26,311 94.41,309.28 94.44,308.61 94.75,307.78 94.54,307 95.18,305.45 95.27,304.22 94.98,303.58 95.47,303.62 96.37,301.36 96.73,302.24 96.54,303.93 97.07,304.51 97.36,305.79 97.48,306.48 97.74,307.41 97.66,308.13 97.85,308.45 97.7,309.8 97.7,311.11 97.85,310.78 97.92,312.94 98.19,312.75 98.07,313.51 98.63,315.25 98.74,316.3 98.4,317 98.7,318.23 99.12,319.24 98.7,320.11 99.39,321.12 98.94,321.03 99.07,321.74 99.7,323.78 99.67,324.74 99.79,324.94 99.54,325.62 100.12,326.71 99.93,327.97 99.84,328.68 100.15,330.27 100.33,330.66 100.86,331.87 100.91,332.97 100.45,333.63 100.86,335.08 100.97,335.91 101.28,336.15 101.69,336.89 101.83,337.93 101.44,338.89 102.15,340.9 101.8,341.14 102.32,342.49 102.28,342.99 102.55,344.39 102.64,345.47 102.82,345.37 103.26,346.69 103,347.8 103.14,348.94 103.73,349.86 103.83,350.18 103.83,351.15 104.6,351.62 105.02,352.44 104.97,353.67 105.88,354.9 105.8,356.46 105.97,356.89 106.46,358.32 106.9,359.18 106.89,359.76 107,361.39 107.6,362.17 107.5,362.66 108.16,363.77 107.95,364.52 108.73,365.12 108.48,366.12 109.4,367.8 109.58,367.76 110.2,368.92 110.96,369.61 111.38,370.56 112.47,371.99 112.49,372.98 113.12,372.84 114.37,374.08 114.83,374.24 115.09,375.19 115.97,374.92 117.12,375.01 118.08,376.41 119.24,376.33 120.14,376.62 120.75,377.15 121.93,377.48 123.29,377.19 124.05,377.78 124.94,377.19 126.16,378.25 127.19,378.14 128.25,378.25 129.02,377.96 129.72,378.23 130.49,377.96 131.89,378.39 132.71,377.77 133.48,378.08 134.55,378.03 135.51,378.79 136.09,378.42 137.43,378.07 138.15,378.92 138.75,378.34 140,378.3" fill="none" stroke="#000" stroke-width="1.1" stroke-linejoin="round" />
<text x="224.8" y="252.4" font-size="16" text-anchor="start" font-weight="bold" fill="#000">C</text>
<line x1="296.4" y1="241.4" x2="296.4" y2="390.7" stroke="#777" stroke-width="1.0" />
<line x1="292.4" y1="387.7" x2="296.4" y2="387.7" stroke="#777" stroke-width="1.0" />
<text x="287.2" y="393.7" font-size="10.3" text-anchor="end" letter-spacing="0.15" fill="#000" stroke="#000" stroke-width="0.22">0</text>
<line x1="292.4" y1="371.44" x2="296.4" y2="371.44" stroke="#777" stroke-width="1.0" />
<text x="287.2" y="377.44" font-size="10.3" text-anchor="end" letter-spacing="0.15" fill="#000" stroke="#000" stroke-width="0.22">0.2</text>
<line x1="292.4" y1="355.19" x2="296.4" y2="355.19" stroke="#777" stroke-width="1.0" />
<text x="287.2" y="361.19" font-size="10.3" text-anchor="end" letter-spacing="0.15" fill="#000" stroke="#000" stroke-width="0.22">0.4</text>
<line x1="292.4" y1="338.93" x2="296.4" y2="338.93" stroke="#777" stroke-width="1.0" />
<text x="287.2" y="344.93" font-size="10.3" text-anchor="end" letter-spacing="0.15" fill="#000" stroke="#000" stroke-width="0.22">0.6</text>
<line x1="292.4" y1="322.68" x2="296.4" y2="322.68" stroke="#777" stroke-width="1.0" />
<text x="287.2" y="328.68" font-size="10.3" text-anchor="end" letter-spacing="0.15" fill="#000" stroke="#000" stroke-width="0.22">0.8</text>
<line x1="292.4" y1="306.42" x2="296.4" y2="306.42" stroke="#777" stroke-width="1.0" />
<text x="287.2" y="312.42" font-size="10.3" text-anchor="end" letter-spacing="0.15" fill="#000" stroke="#000" stroke-width="0.22">1</text>
<line x1="292.4" y1="290.17" x2="296.4" y2="290.17" stroke="#777" stroke-width="1.0" />
<text x="287.2" y="296.17" font-size="10.3" text-anchor="end" letter-spacing="0.15" fill="#000" stroke="#000" stroke-width="0.22">1.2</text>
<line x1="292.4" y1="273.91" x2="296.4" y2="273.91" stroke="#777" stroke-width="1.0" />
<text x="287.2" y="279.91" font-size="10.3" text-anchor="end" letter-spacing="0.15" fill="#000" stroke="#000" stroke-width="0.22">1.4</text>
<line x1="292.4" y1="257.66" x2="296.4" y2="257.66" stroke="#777" stroke-width="1.0" />
<text x="287.2" y="263.66" font-size="10.3" text-anchor="end" letter-spacing="0.15" fill="#000" stroke="#000" stroke-width="0.22">1.6</text>
<line x1="292.4" y1="241.4" x2="296.4" y2="241.4" stroke="#777" stroke-width="1.0" />
<text x="287.2" y="247.4" font-size="10.3" text-anchor="end" letter-spacing="0.15" fill="#000" stroke="#000" stroke-width="0.22">1.8</text>
<line x1="296.4" y1="387.7" x2="468.16" y2="387.7" stroke="#555" stroke-width="1.0" />
<line x1="296.4" y1="387.7" x2="296.4" y2="391.1" stroke="#666" stroke-width="1.0" />
<line x1="317.87" y1="387.7" x2="317.87" y2="391.1" stroke="#666" stroke-width="1.0" />
<line x1="339.34" y1="387.7" x2="339.34" y2="391.1" stroke="#666" stroke-width="1.0" />
<line x1="360.81" y1="387.7" x2="360.81" y2="391.1" stroke="#666" stroke-width="1.0" />
<line x1="382.28" y1="387.7" x2="382.28" y2="391.1" stroke="#666" stroke-width="1.0" />
<line x1="403.75" y1="387.7" x2="403.75" y2="391.1" stroke="#666" stroke-width="1.0" />
<line x1="425.22" y1="387.7" x2="425.22" y2="391.1" stroke="#666" stroke-width="1.0" />
<line x1="446.69" y1="387.7" x2="446.69" y2="391.1" stroke="#666" stroke-width="1.0" />
<line x1="468.16" y1="387.7" x2="468.16" y2="391.1" stroke="#666" stroke-width="1.0" />
<line x1="303.75" y1="275.78" x2="303.75" y2="306.42" stroke="#000" stroke-width="0.9" />
<line x1="300.95" y1="275.78" x2="306.55" y2="275.78" stroke="#000" stroke-width="1.1" />
<rect x="300.25" y="306.42" width="7" height="81.28" fill="#c4c4c4" stroke="#000" stroke-width="1.1"/>
<line x1="311.1" y1="353.81" x2="311.1" y2="361.69" stroke="#000" stroke-width="0.9" />
<line x1="308.3" y1="353.81" x2="313.9" y2="353.81" stroke="#000" stroke-width="1.1" />
<rect x="307.85" y="361.69" width="6.5" height="26.01" fill="#000" stroke="#000" stroke-width="0.6"/>
<line x1="311.1" y1="344.31" x2="311.1" y2="348.31" stroke="#000" stroke-width="0.9" />
<line x1="309.37" y1="345.31" x2="312.83" y2="347.31" stroke="#000" stroke-width="0.9" />
<line x1="312.83" y1="345.31" x2="309.37" y2="347.31" stroke="#000" stroke-width="0.9" />
<text x="310.24" y="397.6" font-size="10.8" text-anchor="end" letter-spacing="0.85" fill="#000" transform="rotate(-45 310.24 397.6)" stroke="#000" stroke-width="0.22">c-myb</text>
<line x1="325.22" y1="297.89" x2="325.22" y2="306.42" stroke="#000" stroke-width="0.9" />
<line x1="322.42" y1="297.89" x2="328.02" y2="297.89" stroke="#000" stroke-width="1.1" />
<rect x="321.72" y="306.42" width="7" height="81.28" fill="#c4c4c4" stroke="#000" stroke-width="1.1"/>
<line x1="332.57" y1="311.79" x2="332.57" y2="320.24" stroke="#000" stroke-width="0.9" />
<line x1="329.77" y1="311.79" x2="335.37" y2="311.79" stroke="#000" stroke-width="1.1" />
<rect x="329.32" y="320.24" width="6.5" height="67.46" fill="#000" stroke="#000" stroke-width="0.6"/>
<text x="331.71" y="397.6" font-size="10.8" text-anchor="end" letter-spacing="0.85" fill="#000" transform="rotate(-45 331.71 397.6)" stroke="#000" stroke-width="0.22">B-myb</text>
<line x1="346.69" y1="272.29" x2="346.69" y2="306.42" stroke="#000" stroke-width="0.9" />
<line x1="343.89" y1="272.29" x2="349.49" y2="272.29" stroke="#000" stroke-width="1.1" />
<rect x="343.19" y="306.42" width="7" height="81.28" fill="#c4c4c4" stroke="#000" stroke-width="1.1"/>
<line x1="354.04" y1="365.19" x2="354.04" y2="373.88" stroke="#000" stroke-width="0.9" />
<line x1="351.24" y1="365.19" x2="356.84" y2="365.19" stroke="#000" stroke-width="1.1" />
<rect x="350.79" y="373.88" width="6.5" height="13.82" fill="#000" stroke="#000" stroke-width="0.6"/>
<line x1="354.04" y1="355.69" x2="354.04" y2="359.69" stroke="#000" stroke-width="0.9" />
<line x1="352.31" y1="356.69" x2="355.77" y2="358.69" stroke="#000" stroke-width="0.9" />
<line x1="355.77" y1="356.69" x2="352.31" y2="358.69" stroke="#000" stroke-width="0.9" />
<text x="353.18" y="397.6" font-size="10.8" text-anchor="end" letter-spacing="0.85" fill="#000" transform="rotate(-45 353.18 397.6)" stroke="#000" stroke-width="0.22">GATA-3</text>
<line x1="368.16" y1="278.79" x2="368.16" y2="306.42" stroke="#000" stroke-width="0.9" />
<line x1="365.36" y1="278.79" x2="370.96" y2="278.79" stroke="#000" stroke-width="1.1" />
<rect x="364.66" y="306.42" width="7" height="81.28" fill="#c4c4c4" stroke="#000" stroke-width="1.1"/>
<line x1="375.51" y1="326.99" x2="375.51" y2="346.25" stroke="#000" stroke-width="0.9" />
<line x1="372.71" y1="326.99" x2="378.31" y2="326.99" stroke="#000" stroke-width="1.1" />
<rect x="372.26" y="346.25" width="6.5" height="41.45" fill="#000" stroke="#000" stroke-width="0.6"/>
<line x1="375.51" y1="317.49" x2="375.51" y2="321.49" stroke="#000" stroke-width="0.9" />
<line x1="373.78" y1="318.49" x2="377.24" y2="320.49" stroke="#000" stroke-width="0.9" />
<line x1="377.24" y1="318.49" x2="373.78" y2="320.49" stroke="#000" stroke-width="0.9" />
<text x="374.34" y="398.1" font-size="10.8" text-anchor="end" letter-spacing="0.85" fill="#000" transform="rotate(-45 374.34 398.1)" stroke="#000" stroke-width="0.22">IL-4</text>
<line x1="389.63" y1="281.23" x2="389.63" y2="306.42" stroke="#000" stroke-width="0.9" />
<line x1="386.83" y1="281.23" x2="392.43" y2="281.23" stroke="#000" stroke-width="1.1" />
<rect x="386.13" y="306.42" width="7" height="81.28" fill="#c4c4c4" stroke="#000" stroke-width="1.1"/>
<line x1="396.98" y1="354.38" x2="396.98" y2="362.5" stroke="#000" stroke-width="0.9" />
<line x1="394.18" y1="354.38" x2="399.78" y2="354.38" stroke="#000" stroke-width="1.1" />
<rect x="393.73" y="362.5" width="6.5" height="25.2" fill="#000" stroke="#000" stroke-width="0.6"/>
<line x1="396.98" y1="344.88" x2="396.98" y2="348.88" stroke="#000" stroke-width="0.9" />
<line x1="395.25" y1="345.88" x2="398.71" y2="347.88" stroke="#000" stroke-width="0.9" />
<line x1="398.71" y1="345.88" x2="395.25" y2="347.88" stroke="#000" stroke-width="0.9" />
<text x="394.31" y="398.6" font-size="10.8" text-anchor="end" letter-spacing="0.85" fill="#000" transform="rotate(-45 394.31 398.6)" stroke="#000" stroke-width="0.22">IL-5</text>
<line x1="411.1" y1="293.42" x2="411.1" y2="306.42" stroke="#000" stroke-width="0.9" />
<line x1="408.3" y1="293.42" x2="413.9" y2="293.42" stroke="#000" stroke-width="1.1" />
<rect x="407.6" y="306.42" width="7" height="81.28" fill="#c4c4c4" stroke="#000" stroke-width="1.1"/>
<line x1="418.45" y1="351.37" x2="418.45" y2="358.85" stroke="#000" stroke-width="0.9" />
<line x1="415.65" y1="351.37" x2="421.25" y2="351.37" stroke="#000" stroke-width="1.1" />
<rect x="415.2" y="358.85" width="6.5" height="28.85" fill="#000" stroke="#000" stroke-width="0.6"/>
<line x1="418.45" y1="341.87" x2="418.45" y2="345.87" stroke="#000" stroke-width="0.9" />
<line x1="416.72" y1="342.87" x2="420.18" y2="344.87" stroke="#000" stroke-width="0.9" />
<line x1="420.18" y1="342.87" x2="416.72" y2="344.87" stroke="#000" stroke-width="0.9" />
<text x="415.09" y="398.6" font-size="10.8" text-anchor="end" letter-spacing="0.85" fill="#000" transform="rotate(-45 415.09 398.6)" stroke="#000" stroke-width="0.22">IL-13</text>
<line x1="432.57" y1="284.48" x2="432.57" y2="306.42" stroke="#000" stroke-width="0.9" />
<line x1="429.77" y1="284.48" x2="435.37" y2="284.48" stroke="#000" stroke-width="1.1" />
<rect x="429.07" y="306.42" width="7" height="81.28" fill="#c4c4c4" stroke="#000" stroke-width="1.1"/>
<line x1="439.92" y1="257.25" x2="439.92" y2="290.17" stroke="#000" stroke-width="0.9" />
<line x1="437.12" y1="257.25" x2="442.72" y2="257.25" stroke="#000" stroke-width="1.1" />
<rect x="436.67" y="290.17" width="6.5" height="97.53" fill="#000" stroke="#000" stroke-width="0.6"/>
<text x="438.75" y="397.6" font-size="10.8" text-anchor="end" letter-spacing="0.85" fill="#000" transform="rotate(-45 438.75 397.6)" stroke="#000" stroke-width="0.22">T-bet</text>
<line x1="454.04" y1="275.94" x2="454.04" y2="306.42" stroke="#000" stroke-width="0.9" />
<line x1="451.24" y1="275.94" x2="456.84" y2="275.94" stroke="#000" stroke-width="1.1" />
<rect x="450.54" y="306.42" width="7" height="81.28" fill="#c4c4c4" stroke="#000" stroke-width="1.1"/>
<line x1="461.39" y1="290.17" x2="461.39" y2="320.65" stroke="#000" stroke-width="0.9" />
<line x1="458.59" y1="290.17" x2="464.19" y2="290.17" stroke="#000" stroke-width="1.1" />
<rect x="458.14" y="320.65" width="6.5" height="67.05" fill="#000" stroke="#000" stroke-width="0.6"/>
<text x="460.22" y="397.6" font-size="10.8" text-anchor="end" letter-spacing="0.85" fill="#000" transform="rotate(-45 460.22 397.6)" stroke="#000" stroke-width="0.22">INF-&#947;</text>
<rect x="313.3" y="241.6" width="6" height="6.6" fill="#c8c8c8" stroke="#000" stroke-width="0.9"/>
<text x="323.4" y="250.6" font-size="10.4" text-anchor="start" letter-spacing="1.1" fill="#000" stroke="#000" stroke-width="0.22">Control</text>
<rect x="369.7" y="241.6" width="6.3" height="6.8" fill="#000" stroke="#000" stroke-width="0.6"/>
<text x="379.6" y="250.8" font-size="10.4" text-anchor="start" letter-spacing="0.75" fill="#000" stroke="#000" stroke-width="0.22">c-myb shRNA</text>
<text x="265.3" y="319.4" font-size="10.8" text-anchor="middle" letter-spacing="0.72" fill="#000" transform="rotate(-90 265.3 319.4)" stroke="#000" stroke-width="0.22">Relative expression</text>
</svg>
</body></html>
